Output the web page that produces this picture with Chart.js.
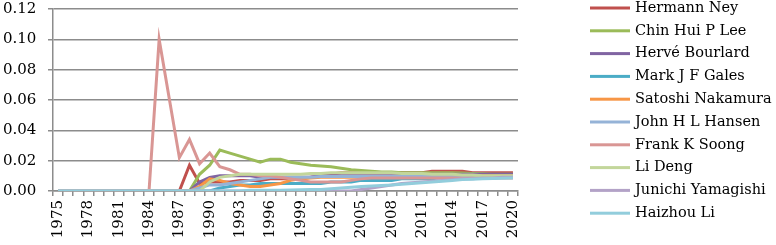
<!DOCTYPE html>
<html>
<head>
<meta charset="utf-8">
<script src="https://cdn.jsdelivr.net/npm/chart.js@4/dist/chart.umd.min.js"></script>
<style>
  html, body { margin: 0; padding: 0; background: #fff; }
  #wrap { width: 776px; height: 245px; position: relative; }
</style>
</head>
<body>
<div id="wrap"><canvas id="chart"></canvas></div>
<script>
// Years on the category axis
const YEARS = [];
for (let y = 1975; y <= 2020; y++) YEARS.push(String(y));

const NAMES = ['Hermann Ney', 'Chin Hui P Lee', 'Hervé Bourlard', 'Mark J F Gales', 'Satoshi Nakamura',
               'John H L Hansen', 'Frank K Soong', 'Li Deng', 'Junichi Yamagishi', 'Haizhou Li'];
const COLORS = ['#C0504D', '#9BBB59', '#8064A2', '#4BACC6', '#F79646',
                '#95B3D7', '#D99694', '#C3D69B', '#B3A2C7', '#92CDDC'];

// values, 1975 .. 2020
const hermannNey = [0, 0, 0, 0, 0, 0, 0, 0, 0, 0, 0, 0, 0,
  0.017, 0.005, 0.006, 0.006, 0.006, 0.007, 0.007, 0.007, 0.008, 0.008, 0.008, 0.008,
  0.009, 0.010, 0.011, 0.012, 0.012, 0.012, 0.012, 0.012, 0.012, 0.012, 0.012, 0.012,
  0.013, 0.013, 0.013, 0.013, 0.012, 0.012, 0.012, 0.012, 0.012];
const chinHuiLee = [0, 0, 0, 0, 0, 0, 0, 0, 0, 0, 0, 0, 0, 0,
  0.011, 0.017, 0.027, 0.025, 0.023, 0.021, 0.019, 0.021, 0.021, 0.019, 0.018,
  0.017, 0.0165, 0.016, 0.015, 0.014, 0.0135, 0.013, 0.0125, 0.0125, 0.012, 0.012,
  0.012, 0.012, 0.012, 0.012, 0.0118, 0.0115, 0.0113, 0.011, 0.011, 0.011];
const herveBourlard = [0, 0, 0, 0, 0, 0, 0, 0, 0, 0, 0, 0, 0, 0,
  0.006, 0.009, 0.010, 0.010, 0.010, 0.010, 0.009, 0.009, 0.009, 0.009, 0.009,
  0.009, 0.010, 0.010, 0.010, 0.010, 0.010, 0.010, 0.010, 0.010, 0.010, 0.0105,
  0.0105, 0.011, 0.011, 0.011, 0.011, 0.011, 0.011, 0.011, 0.011, 0.011];
const markGales = [0, 0, 0, 0, 0, 0, 0, 0, 0, 0, 0, 0, 0, 0, 0, 0,
  0.002, 0.003, 0.004, 0.004, 0.005, 0.005, 0.005, 0.005, 0.005,
  0.005, 0.005, 0.006, 0.006, 0.006, 0.007, 0.007, 0.007, 0.007, 0.008, 0.008,
  0.008, 0.008, 0.009, 0.009, 0.009, 0.009, 0.009, 0.009, 0.009, 0.009];
const satoshiNakamura = [0, 0, 0, 0, 0, 0, 0, 0, 0, 0, 0, 0, 0, 0,
  0.003, 0.008, 0.007, 0.005, 0.004, 0.003, 0.003, 0.004, 0.005, 0.007, 0.008,
  0.0085, 0.009, 0.009, 0.009, 0.009, 0.009, 0.009, 0.009, 0.009, 0.0095, 0.0095,
  0.0095, 0.0095, 0.010, 0.010, 0.010, 0.010, 0.010, 0.010, 0.010, 0.010];
const johnHansen = [0, 0, 0, 0, 0, 0, 0, 0, 0, 0, 0, 0, 0, 0,
  0.002, 0.004, 0.004, 0.005, 0.006, 0.007, 0.008, 0.009, 0.009, 0.009, 0.009,
  0.009, 0.0095, 0.0095, 0.0095, 0.0095, 0.0095, 0.0095, 0.0095, 0.0095, 0.0095, 0.0095,
  0.0095, 0.0095, 0.0095, 0.0095, 0.0095, 0.0095, 0.0095, 0.0095, 0.0095, 0.0095];
const frankSoong = [0, 0, 0, 0, 0, 0, 0, 0, 0, 0,
  0.100, 0.061, 0.022, 0.034, 0.018, 0.025, 0.016, 0.014, 0.011, 0.011, 0.010,
  0.010, 0.009, 0.008, 0.007, 0.006, 0.006, 0.006, 0.006, 0.007, 0.008, 0.0085,
  0.0085, 0.0085, 0.0085, 0.0085, 0.0085, 0.0085, 0.0085, 0.0085, 0.0085, 0.0085,
  0.0085, 0.0085, 0.0085, 0.0085];
const liDeng = [0, 0, 0, 0, 0, 0, 0, 0, 0, 0, 0, 0, 0, 0, 0,
  0.006, 0.009, 0.010, 0.011, 0.011, 0.011, 0.011, 0.011, 0.011, 0.011,
  0.0115, 0.0115, 0.012, 0.012, 0.012, 0.012, 0.012, 0.012, 0.012, 0.0115, 0.0115,
  0.0115, 0.011, 0.011, 0.011, 0.0105, 0.0105, 0.010, 0.010, 0.010, 0.010];
const junichiYamagishi = [0, 0, 0, 0, 0, 0, 0, 0, 0, 0, 0, 0, 0, 0, 0,
  0, 0, 0, 0, 0, 0, 0, 0, 0, 0, 0, 0, 0, 0, 0,
  0.001, 0.002, 0.003, 0.004, 0.005, 0.0055, 0.006, 0.0065, 0.007, 0.0075,
  0.008, 0.008, 0.0085, 0.0085, 0.009, 0.009];
const haizhouLi = [0, 0, 0, 0, 0, 0, 0, 0, 0, 0, 0, 0, 0, 0, 0, 0, 0, 0, 0,
  0.0005, 0.0005, 0.0005, 0.0005, 0.0007, 0.0008, 0.001, 0.001, 0.0015, 0.002,
  0.0025, 0.003, 0.0033, 0.0037, 0.004, 0.0045, 0.005, 0.0055, 0.006, 0.0065,
  0.007, 0.0075, 0.0078, 0.008, 0.0082, 0.0084, 0.0085];

const SERIES = [hermannNey, chinHuiLee, herveBourlard, markGales, satoshiNakamura,
                johnHansen, frankSoong, liDeng, junichiYamagishi, haizhouLi];

const Y_TICKS = [0, 0.02, 0.04, 0.06, 0.08, 0.10, 0.12];

const FONT = '"DejaVu Serif", serif';
Chart.defaults.font.family = FONT;
Chart.defaults.font.size = 15;
Chart.defaults.color = '#000';

// legend on the right and the year labels, drawn by hand
const extras = {
    id: 'extras',
    afterDraw(chart) {
        const ctx = chart.ctx;
        ctx.save();
        ctx.font = '14.5px ' + FONT;
        ctx.textBaseline = 'middle';
        ctx.textAlign = 'left';
        chart.data.datasets.forEach((ds, i) => {
            const y = 8 + i * 22.8;
            ctx.fillStyle = ds.borderColor;
            ctx.fillRect(590, y - 1.5, 40, 3);
            ctx.fillStyle = '#000';
            ctx.fillText(ds.label, 635, y);
        });
        ctx.restore();

        // every third year, reading bottom to top
        const xs = chart.scales.x;
        const top = xs.top + 9;
        ctx.font = '15px ' + FONT;
        ctx.fillStyle = '#000';
        ctx.textAlign = 'right';
        ctx.textBaseline = 'middle';
        YEARS.forEach((yr, i) => {
            if (i % 3 !== 0) return;
            ctx.save();
            ctx.translate(xs.getPixelForValue(i), top);
            ctx.rotate(-Math.PI / 2);
            ctx.fillText(yr, 0, 0);
            ctx.restore();
        });
    }
};

const datasets = SERIES.map((data, i) => ({
    label: NAMES[i],
    data: data,
    borderColor: COLORS[i],
    backgroundColor: COLORS[i],
    borderWidth: 3,
    pointRadius: 0,
    tension: 0,
    order: SERIES.length - i // later series on top, like the original
}));

new Chart(document.getElementById('chart'), {
    type: 'line',
    data: { labels: YEARS, datasets: datasets },
    plugins: [extras],
    options: {
        responsive: true,
        maintainAspectRatio: false,
        animation: false,
        layout: { padding: { left: 3, top: 0, bottom: 0, right: 258 } },
        plugins: {
            tooltip: { enabled: false },
            legend: { display: false }
        },
        scales: {
            x: {
                offset: true,
                grid: {
                    offset: true,
                    drawOnChartArea: false,
                    drawTicks: true,
                    tickLength: 5,
                    color: '#8c8c8c',
                    lineWidth: 1.5
                },
                border: { color: '#8c8c8c', width: 1.5 },
                ticks: { display: false },
                afterFit: function(scale) { scale.height = 54; }
            },
            y: {
                min: 0,
                max: 0.12,
                afterBuildTicks: function(scale) { scale.ticks = Y_TICKS.map(v => ({ value: v })); },
                afterFit: function(scale) { scale.width = 50; },
                grid: {
                    color: '#8c8c8c',
                    lineWidth: 1.5,
                    tickLength: 5
                },
                border: { color: '#8c8c8c', width: 1.5 },
                ticks: {
                    padding: 0,
                    crossAlign: 'far',
                    callback: function(v) { return v.toFixed(2); }
                }
            }
        }
    }
});
</script>
</body>
</html>
